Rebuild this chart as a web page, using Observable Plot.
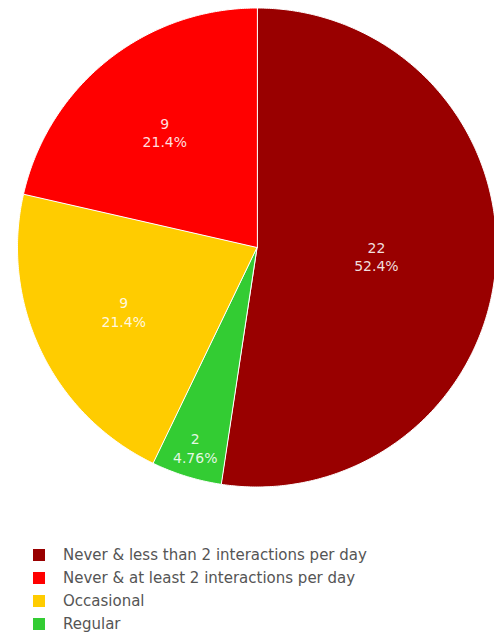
<!DOCTYPE html>
<html><head><meta charset="utf-8">
<script src="https://cdn.jsdelivr.net/npm/d3@7"></script>
<script src="https://cdn.jsdelivr.net/npm/@observablehq/plot@0.6"></script>
<style>
body{margin:0;background:#fff;font-family:"DejaVu Sans",Verdana,sans-serif;}
#chart svg{display:block;}
#legend{margin-top:43px;padding-left:33px;}
.row{height:23px;display:flex;align-items:center;font-size:15px;color:#555;white-space:nowrap;}
.sw{width:12px;height:12px;margin-right:18px;flex:none;}
</style></head><body>
<div id="chart"></div><div id="legend"></div>
<script>
// ---- data ----
const categories = ["Never & less than 2 interactions per day", "Never & at least 2 interactions per day", "Occasional", "Regular"];
const counts = [22, 9, 9, 2];
const colors = ["#990000", "#ff0000", "#ffcc00", "#33cc33"];
const sliceOrder = [0, 3, 2, 1]; // clockwise from 12 o'clock

// ---- layout ----
const W = 494, H = 500, cx = 256.5, cy = 247, R = 239.5;
const total = d3.sum(counts);
const fmt = d3.format(".3r");

const pts = [], labels = [];
let a = 0;
for (const i of sliceOrder) {
  const th = 2 * Math.PI * counts[i] / total;
  const a0 = a, a1 = a + th;
  pts.push({cat: categories[i], x: cx, y: cy});
  const n = Math.max(2, Math.ceil(th / (Math.PI / 360)));
  for (let j = 0; j <= n; j++) {
    const t = a0 + th * j / n;
    pts.push({cat: categories[i], x: cx + R * Math.sin(t), y: cy - R * Math.cos(t)});
  }
  const mid = (a0 + a1) / 2;
  const centroid = 4 * Math.sin(th / 2) / (3 * th);
  const k = th < 0.5 ? 0.875 : Math.max(0.5, centroid);
  labels.push({
    x: cx + k * R * Math.sin(mid),
    y: cy - k * R * Math.cos(mid),
    text: counts[i] + "\n" + fmt(100 * counts[i] / total) + "%"
  });
  a = a1;
}

const chart = Plot.plot({
  width: W, height: H, margin: 0,
  style: {fontFamily: "'DejaVu Sans', Verdana, sans-serif", background: "white"},
  x: {domain: [0, W], range: [0, W], axis: null},
  y: {domain: [0, H], range: [0, H], axis: null},
  color: {domain: categories, range: colors},
  marks: [
    Plot.line(pts, {x: "x", y: "y", z: "cat", fill: "cat", stroke: "white", strokeWidth: 1, curve: "linear-closed"}),
    Plot.text(labels, {x: "x", y: "y", text: "text", fill: "white", fillOpacity: 0.88, fontSize: 14, lineHeight: 1.3})
  ]
});
document.getElementById("chart").append(chart);

const leg = document.getElementById("legend");
categories.forEach((c, i) => {
  const row = document.createElement("div");
  row.className = "row";
  const sw = document.createElement("span");
  sw.className = "sw"; sw.style.background = colors[i];
  const tx = document.createElement("span");
  tx.textContent = c;
  row.append(sw, tx);
  leg.append(row);
});
</script>
</body></html>
